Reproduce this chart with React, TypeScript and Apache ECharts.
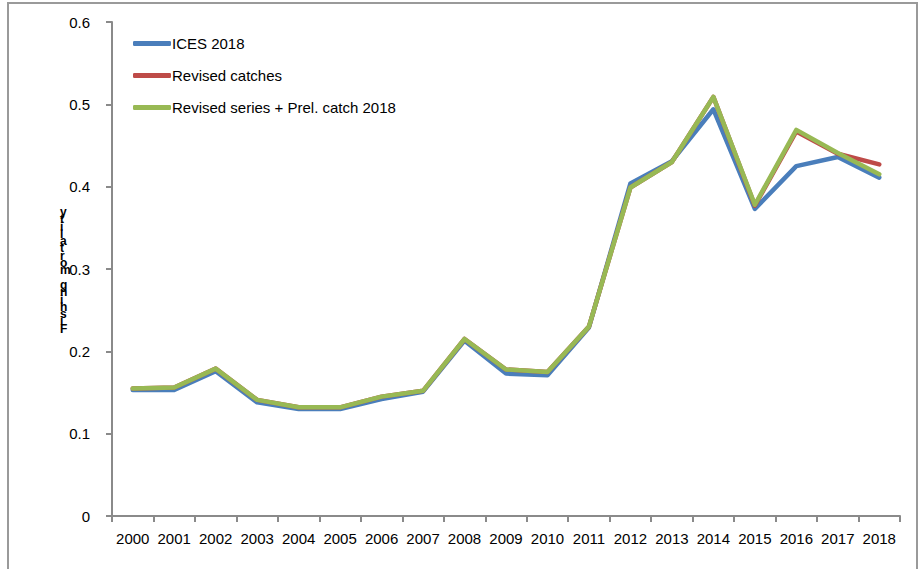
import React, { useEffect, useRef } from "react";
import * as echarts from "echarts";

const years = ["2000","2001","2002","2003","2004","2005","2006","2007","2008","2009","2010","2011","2012","2013","2014","2015","2016","2017","2018"];
const ices2018 = [0.153,0.153,0.176,0.138,0.130,0.130,0.142,0.151,0.213,0.173,0.171,0.229,0.404,0.431,0.494,0.373,0.425,0.436,0.411];
const revisedCatches = [0.155,0.156,0.179,0.141,0.132,0.132,0.145,0.152,0.215,0.178,0.175,0.230,0.399,0.430,0.509,0.377,0.467,0.440,0.427];
const revisedPrel = [0.155,0.156,0.179,0.141,0.132,0.132,0.145,0.152,0.215,0.178,0.175,0.230,0.399,0.430,0.509,0.378,0.469,0.441,0.415];
const yTitle = "Fishing mortality";

const FONT = "'Liberation Sans Narrow', 'Liberation Sans', Arial, sans-serif";

export default function App() {
  const ref = useRef<HTMLDivElement>(null);
  useEffect(() => {
    if (!ref.current) return;
    const chart = echarts.init(ref.current, null, { renderer: "svg" });
    const stacked = yTitle.split("").reverse().join("\n");
    const mk = (name: string, data: number[], color: string) => ({
      name,
      type: "line",
      data,
      showSymbol: false,
      symbol: "none",
      lineStyle: { color, width: 4.5, cap: "round", join: "round" },
      itemStyle: { color },
    });
    chart.setOption({
      animation: false,
      backgroundColor: "#fff",
      textStyle: { fontFamily: FONT },
      grid: { left: 112, right: 20, top: 22, bottom: 53 },
      legend: {
        orient: "vertical",
        left: 128,
        top: 31,
        itemGap: 17,
        itemWidth: 38,
        itemHeight: 5,
        icon: "roundRect",
        textStyle: { fontSize: 15, color: "#000", fontFamily: FONT, padding: [0, 0, 0, -4] },
        data: ["ICES 2018", "Revised catches", "Revised series + Prel. catch 2018"],
      },
      xAxis: {
        type: "category",
        data: years,
        boundaryGap: true,
        axisLine: { lineStyle: { color: "#8a8a8a", width: 2 } },
        axisTick: { show: true, length: 6, lineStyle: { color: "#8a8a8a", width: 2 } },
        axisLabel: { color: "#000", fontSize: 15, margin: 15, interval: 0, fontFamily: FONT },
      },
      yAxis: {
        type: "value",
        min: 0,
        max: 0.6,
        interval: 0.1,
        splitLine: { show: false },
        axisLine: { show: true, lineStyle: { color: "#8a8a8a", width: 2 } },
        axisTick: { show: true, length: 6, lineStyle: { color: "#8a8a8a", width: 2 } },
        axisLabel: { color: "#000", fontSize: 15, margin: 22, fontFamily: FONT, formatter: (v: number) => (v === 0 ? "0" : v.toFixed(1)) },
      },
      graphic: [
        {
          type: "rect",
          shape: { x: 8, y: 3, width: 909, height: 600 },
          style: { fill: "none", stroke: "#9a9a9a", lineWidth: 2 },
          silent: true,
          z: -1,
        },
        {
          type: "text",
          left: 60,
          top: 206,
          style: {
            text: stacked,
            fontSize: 12,
            fontWeight: "bold",
            lineHeight: 7.3,
            fill: "#000",
            fontFamily: FONT,
            align: "center",
          },
        },
      ],
      series: [
        mk("ICES 2018", ices2018, "#4a7ebb"),
        mk("Revised catches", revisedCatches, "#be4b48"),
        mk("Revised series + Prel. catch 2018", revisedPrel, "#98b954"),
      ],
    });
    return () => chart.dispose();
  }, []);
  return <div ref={ref} style={{ width: 920, height: 569, position: "absolute", left: 0, top: 0 }} />;
}
